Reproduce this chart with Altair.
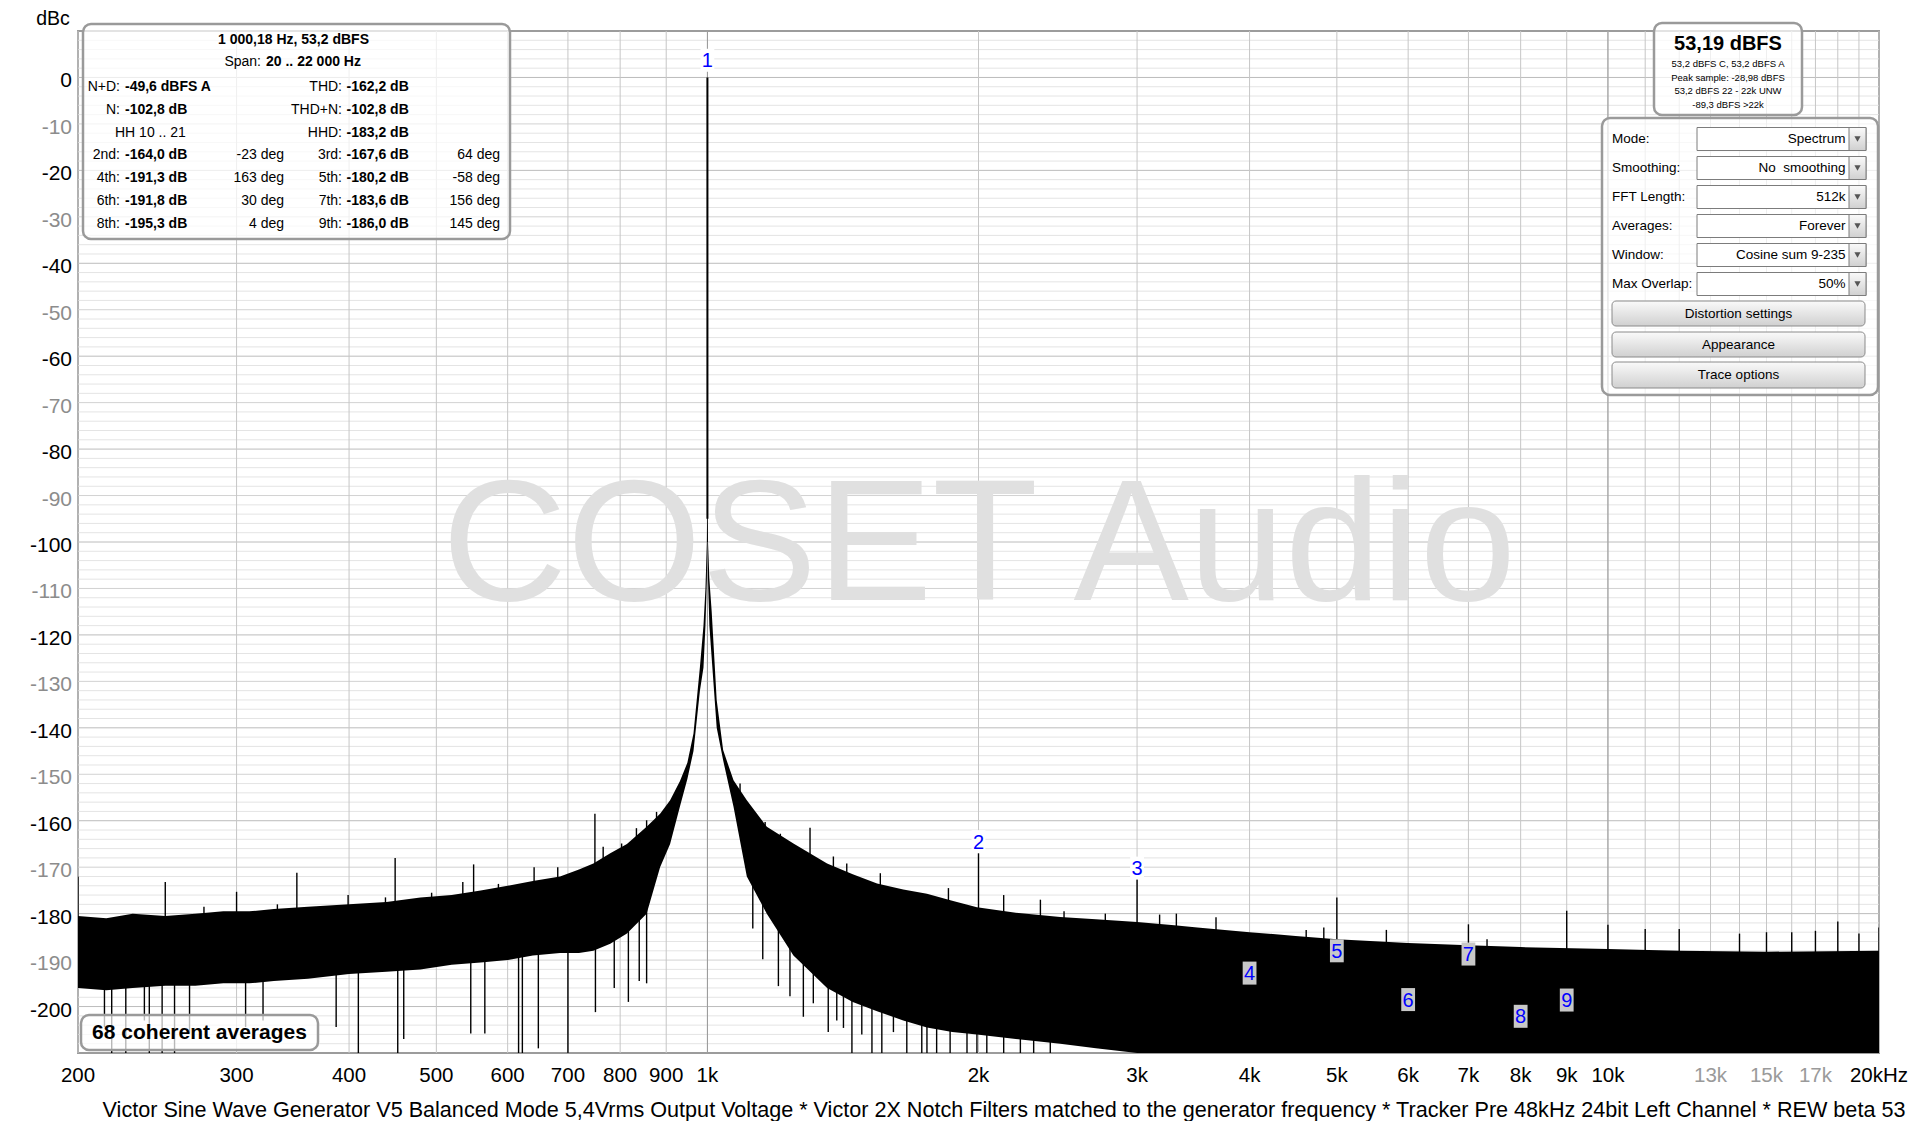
import altair as alt
import pandas as pd

FONT = "Liberation Sans"
W, H = 1801, 1022

# ---------------- data ----------------
NOISE_FREQ = [200, 215, 230, 250, 270, 290, 310, 330, 360, 400,
              440, 480, 520, 560, 600, 640, 686, 720, 747, 780,
              814, 856, 886, 909, 932, 950, 965, 981, 990, 995,
              998.6, 999.6, 1000.4, 1001.5, 1005, 1011, 1024, 1041, 1069, 1106,
              1164, 1246, 1358, 1450, 1543, 1650, 1753, 1870, 1992, 2200,
              2465, 2700, 3000, 3300, 3500, 4000, 4500, 5000, 6000, 7000,
              8000, 10000, 12000, 15000, 20000]
NOISE_UPPER = [-180.5, -181, -180, -180.5, -180, -179.5, -179.5, -179, -178.5, -178,
               -177.5, -176.5, -176, -175, -174, -173, -172, -170.5, -169.2, -167,
               -165, -161.3, -158.5, -155.6, -151.5, -147.5, -141.2, -126.9, -118, -110,
               -100, -90, -90, -100, -108, -115, -134, -144.8, -151.3, -155.6,
               -161.3, -164.9, -169.2, -171.5, -173.5, -174.8, -175.7, -177.2, -178.6, -179.8,
               -180.7, -181.2, -181.8, -182.5, -183, -184, -184.8, -185.5, -186.3, -186.8,
               -187.2, -187.6, -188, -188.2, -188]
NOISE_LOWER = [-196, -196.5, -196, -195.5, -195.5, -195, -195, -194.5, -194, -193,
               -192.5, -192, -191, -190.5, -190, -189, -188.5, -188.5, -188, -186.5,
               -184.3, -180, -170, -165, -157, -151, -145, -132, -127, -118,
               -108, -100, -100, -108, -118, -125, -140, -147, -157, -172,
               -180, -189, -196, -199, -201, -203, -204.5, -205.5, -206, -207,
               -208, -209, -210, -210, -210, -210, -210, -210, -210, -210,
               -210, -210, -210, -210, -210]

# carrier
PEAK_F = [1000]
PEAK_DB = [0]
PEAK_BASE = [-95]

# spikes rising above the noise (tip, and a point inside the band where they start)
UP_F = [200, 250, 300, 350, 450, 550, 750, 1300,
        276, 333, 399, 439, 494, 535, 586, 642, 682, 766, 803, 834, 856, 878,
        1087, 1159, 1205, 1380, 1428, 1556, 1852, 2133, 2343,
        2000, 3000, 5000, 7000, 9000,
        2489, 2766, 3178, 3317, 3671, 4623, 4836, 5675, 7341,
        10000, 11000, 12000, 14000, 15000, 16000, 17000, 18000, 19000, 20000]
UP_DB = [-172, -173.2, -175.3, -171.2, -168, -169.4, -158.5, -161.5,
         -178.5, -178, -176, -176.5, -175.5, -173.2, -173.6, -170, -170, -165.6, -164.9, -161.6, -159.9, -158.1,
         -152, -160.3, -162.8, -167.7, -169.2, -171.3, -174.5, -176, -177,
         -167, -172.5, -176.5, -182.3, -179.4,
         -179.5, -180, -180.2, -180, -180.8, -183.5, -183, -183.5, -185.5,
         -182.4, -183.3, -183.3, -184.3, -184, -184, -183.7, -181.7, -184.3, -183]
UP_BASE = [-185, -185, -185, -185, -185, -182, -180, -175,
           -185, -185, -185, -185, -182, -182, -182, -180, -180, -178, -175, -172, -170, -168,
           -155, -165, -168, -175, -178, -180, -182, -185, -185,
           -185, -188, -190, -190, -190,
           -188, -188, -188, -188, -190, -190, -190, -190, -192,
           -192, -192, -192, -192, -192, -192, -192, -192, -192, -192]

# spikes falling below the noise
DOWN_F = [214, 218, 226, 237, 240, 248, 256, 266, 307, 321,
          387, 409.6, 453, 460, 546, 566, 617, 623, 649, 700,
          751, 788, 817, 840, 856,
          1123, 1152, 1199, 1235, 1278, 1311, 1362, 1392, 1416, 1447,
          1484, 1523, 1562, 1609, 1665, 1730, 1753, 1797, 1860, 1942,
          1992, 2043, 2133, 2226, 2303, 2403]
DOWN_DB = [-204.4, -210, -210, -203, -210, -210, -210, -205.8, -204.4, -203,
           -204.4, -210, -210, -207, -205.8, -205.8, -210, -210, -209, -210,
           -201.2, -196, -199, -194.5, -195,
           -183.2, -189.8, -195.6, -197.8, -202.2, -199.3, -205.5, -203, -204.6, -210,
           -206, -210, -210, -205.5, -210, -210, -210, -210, -210, -210,
           -210, -210, -210, -210, -210, -210]
DOWN_FROM = [-192, -192, -192, -192, -192, -192, -192, -192, -192, -192,
             -190, -190, -190, -190, -188, -188, -188, -188, -186, -186,
             -185, -182, -180, -176, -175,
             -168, -172, -178, -182, -185, -186, -190, -192, -193, -195,
             -196, -197, -197, -198, -200, -201, -201, -202, -202, -203,
             -203, -203, -204, -204, -205, -205]

# harmonic markers
MARKER_F = [1000, 2000, 3000, 4000, 5000, 6000, 7000, 8000, 9000]
MARKER_TXT = ["1", "2", "3", "4", "5", "6", "7", "8", "9"]
MARKER_DB = [3.7, -164.5, -170.2, -192.8, -188.0, -198.5, -188.7, -202.1, -198.6]
MARKER_BG = ["white", "white", "white", "#c8c8c8", "#c8c8c8", "#c8c8c8", "#c8c8c8", "#c8c8c8", "#c8c8c8"]

# axes / grid
X_TICKS = [200, 300, 400, 500, 600, 700, 800, 900, 1000, 2000, 3000, 4000, 5000,
           6000, 7000, 8000, 9000, 10000, 13000, 15000, 17000, 20000]
X_TICK_LABELS = ["200", "300", "400", "500", "600", "700", "800", "900", "1k", "2k", "3k", "4k", "5k",
                 "6k", "7k", "8k", "9k", "10k", "13k", "15k", "17k", "20kHz"]
X_TICKS_DIM = [13000, 15000, 17000]
Y_TICKS = list(range(-200, 1, 10))
GRID_F = list(range(200, 1000, 100)) + list(range(1000, 20001, 1000))
GRID_F_MAJOR = [1000, 10000]
GRID_DB_MINOR = [v for v in range(-208, 10, 2) if v % 10 != 0]
GRID_DB_10 = [v for v in range(-200, 1, 10) if v % 20 != 0]
GRID_DB_20 = list(range(-200, 1, 20))

x_scale = alt.Scale(type="log", domain=[200, 20000], nice=False)
y_scale = alt.Scale(domain=[-210, 10], nice=False, zero=False)

ONE = pd.DataFrame({"k": [0]})


def X(field):
    return alt.X(field, type="quantitative", scale=x_scale, axis=None)


def Y(field):
    return alt.Y(field, type="quantitative", scale=y_scale, axis=None)


def txt(s, x, y, size=14, bold=False, align="left", color="black", baseline="middle"):
    return alt.Chart(ONE).mark_text(
        text=s, align=align, baseline=baseline, fontSize=size,
        fontWeight="bold" if bold else "normal", color=color, font=FONT
    ).encode(x=alt.value(x), y=alt.value(y))


def box(x1, x2, y1, y2, fill="white", fill_opacity=1.0, stroke=None, sw=1.0, cr=0):
    kw = dict(fill=fill, fillOpacity=fill_opacity, cornerRadius=cr)
    if stroke:
        kw.update(stroke=stroke, strokeWidth=sw)
    return alt.Chart(ONE).mark_rect(**kw).encode(
        x=alt.value(x1), x2=alt.value(x2), y=alt.value(y1), y2=alt.value(y2))


def hgrid(vals, color):
    return alt.Chart(pd.DataFrame({"db": vals})).mark_rule(color=color, strokeWidth=1).encode(
        y=Y("db"), x=alt.value(0), x2=alt.value(W))


def vgrid(vals, color):
    return alt.Chart(pd.DataFrame({"f": vals})).mark_rule(color=color, strokeWidth=1).encode(
        x=X("f"), y=alt.value(0), y2=alt.value(H))


layers = [
    hgrid(GRID_DB_MINOR, "#e4e4e4"),
    hgrid(GRID_DB_10, "#d2d2d2"),
    hgrid(GRID_DB_20, "#bcbcbc"),
    vgrid(GRID_F, "#c6c6c6"),
    vgrid(GRID_F_MAJOR, "#9a9a9a"),
    txt("COSET Audio", 901, 569, size=173, align="center", color="#e0e0e0", baseline="alphabetic"),
]

# noise floor band
noise = pd.DataFrame({"f": NOISE_FREQ, "up": NOISE_UPPER, "lo": NOISE_LOWER})
layers.append(
    alt.Chart(noise).mark_area(color="black", interpolate="linear", orient="vertical", clip=True).encode(
        x=X("f"), y=Y("up"), y2=alt.Y2("lo")))

down = pd.DataFrame({"f": DOWN_F, "db": DOWN_DB, "from": DOWN_FROM})
layers.append(alt.Chart(down).mark_rule(color="black", strokeWidth=1.4, clip=True).encode(
    x=X("f"), y=Y("from"), y2=alt.Y2("db")))

up = pd.DataFrame({"f": UP_F, "db": UP_DB, "base": UP_BASE})
layers.append(alt.Chart(up).mark_rule(color="black", strokeWidth=1.4, clip=True).encode(
    x=X("f"), y=Y("db"), y2=alt.Y2("base")))

peak = pd.DataFrame({"f": PEAK_F, "db": PEAK_DB, "base": PEAK_BASE})
layers.append(alt.Chart(peak).mark_rule(color="black", strokeWidth=2, clip=True).encode(
    x=X("f"), y=Y("db"), y2=alt.Y2("base")))

markers = pd.DataFrame({"f": MARKER_F, "db": MARKER_DB, "t": MARKER_TXT, "bg": MARKER_BG})
layers.append(alt.Chart(markers).mark_point(
    shape="M-0.6,-1H0.6V1H-0.6Z", size=23 * 23, filled=True, opacity=1, strokeWidth=0).encode(
    x=X("f"), y=Y("db"), fill=alt.Fill("bg:N", scale=None)))
layers.append(alt.Chart(markers).mark_text(color="#0000ff", fontSize=20, font=FONT, baseline="middle", dy=1).encode(
    x=X("f"), y=Y("db"), text="t:N"))

# axis labels drawn from the tick lists
xt = pd.DataFrame({"f": X_TICKS, "lab": X_TICK_LABELS,
                   "c": ["#9a9a9a" if v in X_TICKS_DIM else "#000000" for v in X_TICKS]})
layers.append(alt.Chart(xt).mark_text(fontSize=20.5, font=FONT, baseline="alphabetic", align="center").encode(
    x=X("f"), y=alt.value(1051), text="lab:N", color=alt.Color("c:N", scale=None)))
yt = pd.DataFrame({"v": Y_TICKS, "lab": [str(v) for v in Y_TICKS],
                   "c": ["#000000" if v % 20 == 0 else "#8c8c8c" for v in Y_TICKS]})
layers.append(alt.Chart(yt).mark_text(fontSize=21, font=FONT, baseline="alphabetic", align="right", dy=10).encode(
    x=alt.value(-6), y=Y("v"), text="lab:N", color=alt.Color("c:N", scale=None)))

# "68 coherent averages"
layers += [
    box(3, 240, 984, 1019, fill_opacity=0.72, stroke="#9a9a9a", sw=2.5, cr=8),
    txt("68 coherent averages", 121.5, 1002, size=21, bold=True, align="center"),
]

# top-left info box
GRAY = "#9a9a9a"
layers += [
    box(5, 432, -7, 208, fill_opacity=0.72, stroke=GRAY, sw=2.5, cr=8),
    txt("1 000,18 Hz, 53,2 dBFS", 215.5, 8.5, bold=True, align="center"),
    txt("Span:", 183, 30.5, align="right"),
    txt("20 .. 22 000 Hz", 188, 30.5, bold=True),
]
rows_y = [56, 78.5, 101.5, 124, 147, 170, 193]
left_rows = [("N+D:", "-49,6 dBFS A", None), ("N:", "-102,8 dB", None), (None, None, None),
             ("2nd:", "-164,0 dB", "-23 deg"), ("4th:", "-191,3 dB", "163 deg"),
             ("6th:", "-191,8 dB", "30 deg"), ("8th:", "-195,3 dB", "4 deg")]
right_rows = [("THD:", "-162,2 dB", None), ("THD+N:", "-102,8 dB", None), ("HHD:", "-183,2 dB", None),
              ("3rd:", "-167,6 dB", "64 deg"), ("5th:", "-180,2 dB", "-58 deg"),
              ("7th:", "-183,6 dB", "156 deg"), ("9th:", "-186,0 dB", "145 deg")]
for yy, (l, v, p) in zip(rows_y, left_rows):
    if l:
        layers.append(txt(l, 42, yy, align="right"))
        layers.append(txt(v, 47, yy, bold=True))
    if p:
        layers.append(txt(p, 206, yy, align="right"))
layers.append(txt("HH 10 .. 21", 37, rows_y[2]))
for yy, (l, v, p) in zip(rows_y, right_rows):
    layers.append(txt(l, 264, yy, align="right"))
    layers.append(txt(v, 268.5, yy, bold=True))
    if p:
        layers.append(txt(p, 422, yy, align="right"))

# top-right level box
layers += [
    box(1576, 1724, -8, 84, fill_opacity=0.72, stroke=GRAY, sw=2.5, cr=8),
    txt("53,19 dBFS", 1650, 12.5, size=20, bold=True, align="center"),
    txt("53,2 dBFS C, 53,2 dBFS A", 1650, 33.3, size=9.5, align="center"),
    txt("Peak sample: -28,98 dBFS", 1650, 46.7, size=9.5, align="center"),
    txt("53,2 dBFS 22 - 22k UNW", 1650, 60, size=9.5, align="center"),
    txt("-89,3 dBFS >22k", 1650, 74, size=9.5, align="center"),
]

# control panel
GRAD = {"gradient": "linear", "x1": 0, "y1": 0, "x2": 0, "y2": 1,
        "stops": [{"offset": 0, "color": "#fafafa"}, {"offset": 1, "color": "#d0d0d0"}]}
layers.append(box(1524, 1800, 87, 364, fill_opacity=0.72, stroke=GRAY, sw=2.5, cr=8))
panel = [("Mode:", "Spectrum"), ("Smoothing:", "No\u00a0 smoothing"), ("FFT Length:", "512k"),
         ("Averages:", "Forever"), ("Window:", "Cosine sum 9-235"), ("Max Overlap:", "50%")]
for i, (lab, val) in enumerate(panel):
    cy = 108 + 29 * i
    layers += [
        txt(lab, 1534, cy, size=13.5),
        box(1619, 1788, cy - 11.5, cy + 11.5, fill="white", stroke="#7c7c7c", sw=1),
        box(1771, 1788, cy - 11.5, cy + 11.5, fill=GRAD, stroke="#7c7c7c", sw=1),
        txt(val, 1767.5, cy, size=13.5, align="right"),
        alt.Chart(ONE).mark_point(shape="triangle-down", size=38, filled=True, color="#555555", opacity=1).encode(
            x=alt.value(1779.5), y=alt.value(cy)),
    ]
for (y1, y2, lab) in [(270, 295, "Distortion settings"), (301, 326, "Appearance"), (331, 357, "Trace options")]:
    layers += [
        box(1534, 1787, y1, y2, fill=GRAD, stroke="#8a8a8a", sw=1, cr=4),
        txt(lab, 1660.5, (y1 + y2) / 2, size=13.5, align="center"),
    ]

# axis title and footer
layers += [
    txt("dBc", -25, -6.5, size=19.5, align="center", baseline="alphabetic"),
    txt("Victor Sine Wave Generator V5 Balanced Mode 5,4Vrms Output Voltage * Victor 2X Notch Filters matched "
        "to the generator frequency * Tracker Pre 48kHz 24bit Left Channel * REW beta 53",
        926, 1085.5, size=21.6, align="center", baseline="alphabetic"),
]

chart = alt.layer(*layers).properties(
    width=W, height=H,
    padding={"left": 70, "top": 23, "right": 32, "bottom": 68},
    autosize=alt.AutoSizeParams(type="none"),
    background="white",
).configure_view(stroke="#9c9c9c", strokeWidth=2)

chart.save("out.html", embed_options={"renderer": "svg", "actions": False})
